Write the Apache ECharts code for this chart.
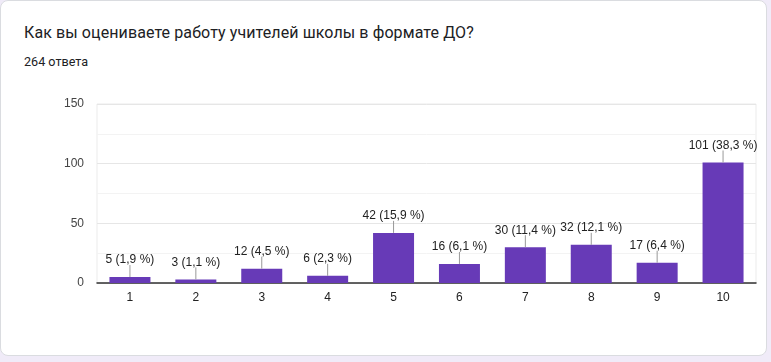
<!DOCTYPE html>
<html><head><meta charset="utf-8">
<script src="https://cdn.jsdelivr.net/npm/echarts@6/dist/echarts.min.js"></script>
<style>
html,body{margin:0;padding:0;background:#f0ebf8;width:771px;height:362px;overflow:hidden;}
#card{position:absolute;left:0;top:0;width:767px;height:356px;background:#fff;border:1px solid #dadce0;border-radius:8px;box-sizing:border-box;}
#title{position:absolute;left:24px;top:23px;font-family:Roboto,"Noto Sans",sans-serif;font-size:16px;color:#202124;letter-spacing:0.1px;}
#sub{position:absolute;left:24px;top:54px;font-family:Roboto,"Noto Sans",sans-serif;font-size:12.6px;color:#202124;}
#chart{position:absolute;left:0;top:0;width:771px;height:362px;}
</style></head>
<body>
<div id="card"></div>
<div id="title">Как вы оцениваете работу учителей школы в формате ДО?</div>
<div id="sub">264 ответа</div>
<div id="chart"></div>
<script>
const categories = ['1','2','3','4','5','6','7','8','9','10'];
const values = [5,3,12,6,42,16,30,32,17,101];
const percents = ['1,9','1,1','4,5','2,3','15,9','6,1','11,4','12,1','6,4','38,3'];
const yTicks = [0,50,100,150];

const chart = echarts.init(document.getElementById('chart'), null, {renderer:'canvas'});
chart.setOption({
  animation:false,
  backgroundColor:'transparent',
  grid:{left:97,right:15,top:104,bottom:79,show:true,borderColor:'#ebebeb',borderWidth:1,backgroundColor:'transparent'},
  xAxis:{type:'category',data:categories,
    axisLine:{lineStyle:{color:'#333',width:1.5}},
    axisTick:{show:false},
    axisLabel:{color:'#222',fontFamily:'Arial, Liberation Sans',fontSize:12,margin:9}},
  yAxis:{type:'value',min:yTicks[0],max:yTicks[yTicks.length-1],interval:50,
    axisLine:{show:false},axisTick:{show:false},
    axisLabel:{color:'#444',fontFamily:'Arial, Liberation Sans',fontSize:12,margin:13},
    splitLine:{lineStyle:{color:'#e6e6e6'}},
    minorTick:{show:false,splitNumber:2},
    minorSplitLine:{show:true,lineStyle:{color:'#f3f3f3'}}},
  series:[
    {type:'bar',data:values,barWidth:41,itemStyle:{color:'#673ab7'},
     label:{show:true,position:'top',distance:11,color:'#222',fontFamily:'Arial, Liberation Sans',fontSize:12,
       formatter:p=>p.value+' ('+percents[p.dataIndex]+' %)'}},
    {type:'custom',data:values.map((v,i)=>[i,v]),silent:true,z:5,
     renderItem:(params,api)=>{
       const p=api.coord([api.value(0),api.value(1)]);
       return {type:'line',shape:{x1:p[0],y1:p[1],x2:p[0],y2:p[1]-12},style:{stroke:'#999',lineWidth:1}};
     }}
  ]
});
</script>
</body></html>
